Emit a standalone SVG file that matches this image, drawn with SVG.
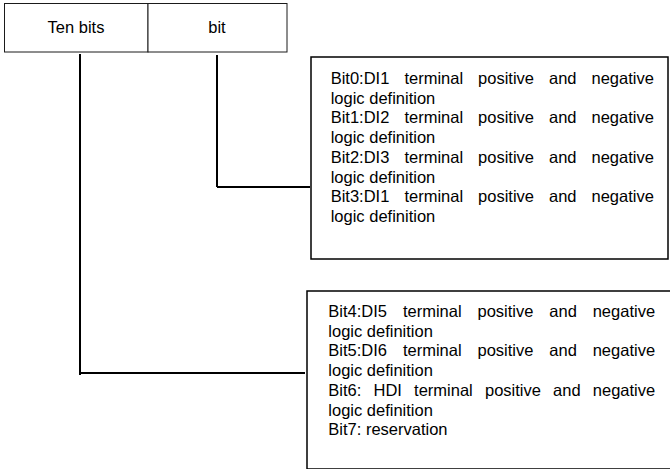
<svg xmlns="http://www.w3.org/2000/svg" width="670" height="469" viewBox="0 0 670 469">
<style>
  .box { fill: #ffffff; stroke: #000000; stroke-width: 1.5; }
  .hdr { fill: #ffffff; stroke: #1a1a1a; stroke-width: 1; }
  .conn { fill: none; stroke: #000000; stroke-width: 2; }
  text { font-family: "Liberation Sans", Arial, sans-serif; fill: #000000; }
  .t { font-size: 16.5px; }
  .h { font-size: 16.5px; text-anchor: middle; }
</style>
<rect width="670" height="469" fill="#ffffff"/>

<g id="connectors">
  <path class="conn" d="M80 54 V375 M80 373 H305"/>
  <path class="conn" d="M217 55 V187 M217 187 H310"/>
</g>

<g id="header-ten-bits">
  <rect class="hdr" x="4.5" y="3.5" width="143.5" height="48.5"/>
  <text class="h" x="76" y="33">Ten bits</text>
</g>
<g id="header-bit">
  <rect class="hdr" x="148" y="3.5" width="139" height="48.5"/>
  <text class="h" x="217" y="33">bit</text>
</g>

<g id="box-bits0-3">
  <rect class="box" x="311" y="57" width="357" height="202"/>
  <text class="t" y="84"><tspan x="330.7">Bit0:DI1</tspan><tspan x="404.4">terminal</tspan><tspan x="478.1">positive</tspan><tspan x="549">and</tspan><tspan x="591.5">negative</tspan></text>
  <text class="t" x="330.7" y="103.7">logic definition</text>
  <text class="t" y="123.4"><tspan x="330.7">Bit1:DI2</tspan><tspan x="404.4">terminal</tspan><tspan x="478.1">positive</tspan><tspan x="549">and</tspan><tspan x="591.5">negative</tspan></text>
  <text class="t" x="330.7" y="143.1">logic definition</text>
  <text class="t" y="162.8"><tspan x="330.7">Bit2:DI3</tspan><tspan x="404.4">terminal</tspan><tspan x="478.1">positive</tspan><tspan x="549">and</tspan><tspan x="591.5">negative</tspan></text>
  <text class="t" x="330.7" y="182.5">logic definition</text>
  <text class="t" y="202.2"><tspan x="330.7">Bit3:DI1</tspan><tspan x="404.4">terminal</tspan><tspan x="478.1">positive</tspan><tspan x="549">and</tspan><tspan x="591.5">negative</tspan></text>
  <text class="t" x="330.7" y="221.9">logic definition</text>
</g>

<g id="box-bits4-7">
  <rect class="box" x="307" y="291" width="380" height="178"/>
  <text class="t" y="317"><tspan x="328.3">Bit4:DI5</tspan><tspan x="402.9">terminal</tspan><tspan x="477.5">positive</tspan><tspan x="549.3">and</tspan><tspan x="592.7">negative</tspan></text>
  <text class="t" x="328.3" y="336.7">logic definition</text>
  <text class="t" y="356.4"><tspan x="328.3">Bit5:DI6</tspan><tspan x="402.9">terminal</tspan><tspan x="477.5">positive</tspan><tspan x="549.3">and</tspan><tspan x="592.7">negative</tspan></text>
  <text class="t" x="328.3" y="376.1">logic definition</text>
  <text class="t" y="395.8"><tspan x="328.3">Bit6:</tspan><tspan x="373.5">HDI</tspan><tspan x="414.1">terminal</tspan><tspan x="485">positive</tspan><tspan x="553.1">and</tspan><tspan x="592.8">negative</tspan></text>
  <text class="t" x="328.3" y="415.5">logic definition</text>
  <text class="t" x="328.3" y="435.2">Bit7: reservation</text>
</g>
</svg>
